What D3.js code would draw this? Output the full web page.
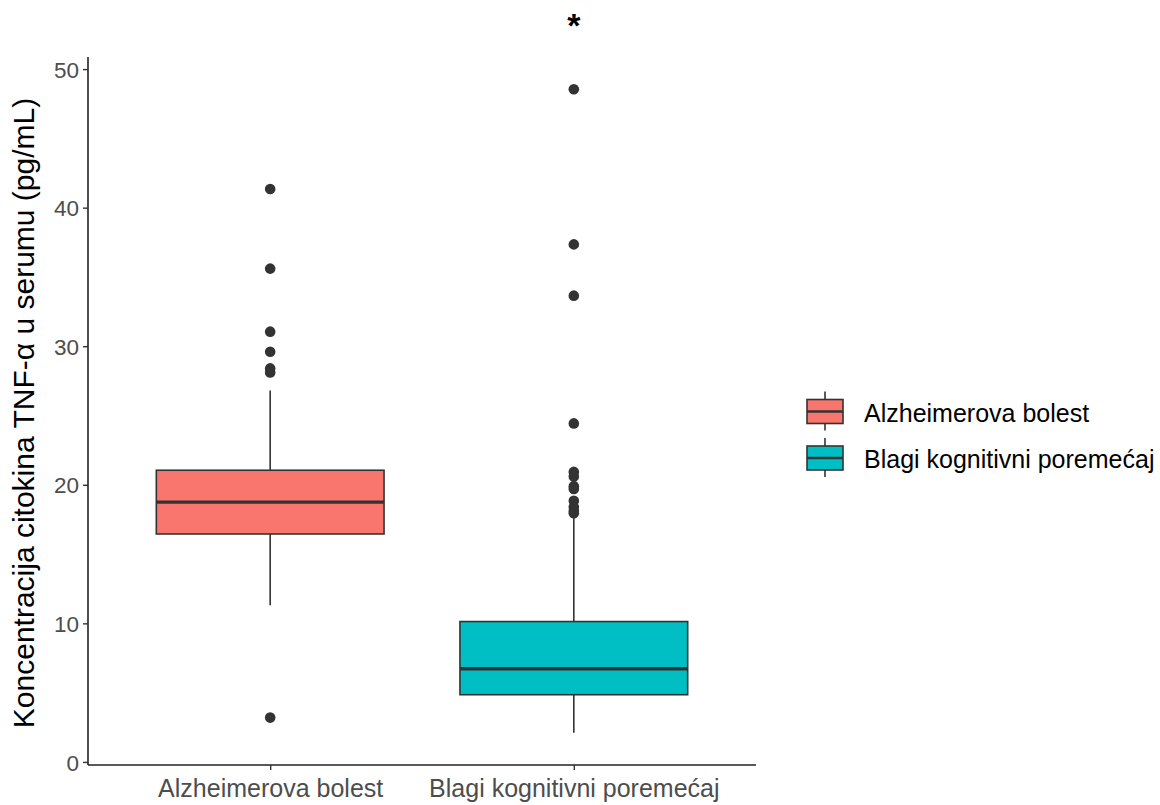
<!DOCTYPE html>
<html>
<head>
<meta charset="utf-8">
<script src="https://cdn.jsdelivr.net/npm/d3@7"></script>
<style>
  html, body { margin: 0; padding: 0; background: #ffffff; }
  svg { display: block; font-family: "Liberation Sans", Arial, sans-serif; }
</style>
</head>
<body>
<svg id="chart" width="1160" height="805"></svg>
<script>
// ---- data ----
const categories = ["Alzheimerova bolest", "Blagi kognitivni poremećaj"];
const colors = ["#F8766D", "#00BFC4"];
const q1 = [16.45, 4.85];
const median = [18.75, 6.72];
const q3 = [21.05, 10.13];
const whiskerLow = [11.3, 2.1];
const whiskerHigh = [26.8, 17.7];
const outliersAD = [41.35, 35.6, 31.05, 29.6, 28.4, 28.1, 3.2];
const outliersBKP = [48.55, 37.35, 33.65, 24.43, 20.93, 20.6, 19.9, 19.7, 18.85, 18.4, 18.1, 17.95];
const yTicks = [0, 10, 20, 30, 40, 50];
const yTitle = "Koncentracija citokina TNF-α u serumu (pg/mL)";
const significance = "*";

// ---- layout ----
const svg = d3.select("#chart");
const pLeft = 88, pRight = 756, pTop = 57, pBottom = 765;
const dataMin = 2.1, dataMax = 48.55;
const pad = (dataMax - dataMin) * 0.05;

const y = d3.scaleLinear().domain([dataMin - pad, dataMax + pad]).range([pBottom, pTop]);
// ggplot discrete: centers at 0.6/2.2 and 1.6/2.2 of width
const xc = d3.scalePoint().domain(categories).range([pLeft + (pRight-pLeft)*0.6/2.2, pLeft + (pRight-pLeft)*1.6/2.2]);
const step = (pRight-pLeft)/2.2;
const boxW = step * 0.75;

const ink = "#333333";

// boxes
const boxes = categories.map((c, i) => ({c, i, q1: q1[i], med: median[i], q3: q3[i], lo: whiskerLow[i], hi: whiskerHigh[i], col: colors[i]}));
const g = svg.append("g");
boxes.forEach(b => {
  const cx = xc(b.c);
  g.append("line").attr("x1", cx).attr("x2", cx).attr("y1", y(b.q3)).attr("y2", y(b.hi))
    .attr("stroke", ink).attr("stroke-width", 1.6);
  g.append("line").attr("x1", cx).attr("x2", cx).attr("y1", y(b.q1)).attr("y2", y(b.lo))
    .attr("stroke", ink).attr("stroke-width", 1.6);
  g.append("rect").attr("x", cx - boxW/2).attr("width", boxW)
    .attr("y", y(b.q3)).attr("height", y(b.q1) - y(b.q3))
    .attr("fill", b.col).attr("stroke", ink).attr("stroke-width", 1.6);
  g.append("line").attr("x1", cx - boxW/2).attr("x2", cx + boxW/2).attr("y1", y(b.med)).attr("y2", y(b.med))
    .attr("stroke", ink).attr("stroke-width", 3.4);
});
const outs = [outliersAD, outliersBKP];
outs.forEach((arr, i) => {
  g.selectAll(null).data(arr).enter().append("circle")
    .attr("cx", xc(categories[i])).attr("cy", d => y(d)).attr("r", 5.3).attr("fill", ink);
});

// axes
const yAxis = d3.axisLeft(y).tickValues(yTicks).tickSize(5).tickPadding(4);
const ya = svg.append("g").attr("transform", `translate(${pLeft},0)`).call(yAxis);
ya.select(".domain").attr("stroke", "#222").attr("stroke-width", 1.6).attr("d", `M0,${pBottom}V${pTop}`);
ya.selectAll(".tick line").attr("stroke", "#333").attr("stroke-width", 1.4);
ya.selectAll(".tick text").attr("fill", "#4d4d4d").attr("font-size", 22.5).attr("dy", "0.36em")
  .attr("font-family", "Liberation Sans, Arial, sans-serif");

const xAxis = d3.axisBottom(xc).tickSize(5).tickPadding(9);
const xa = svg.append("g").attr("transform", `translate(0,${pBottom})`).call(xAxis);
xa.select(".domain").attr("stroke", "#222").attr("stroke-width", 1.6).attr("d", `M${pLeft},0H${pRight}`);
xa.selectAll(".tick line").attr("stroke", "#333").attr("stroke-width", 1.4);
xa.selectAll(".tick text").attr("fill", "#4d4d4d").attr("font-size", 25).attr("dy", "0.71em")
  .attr("font-family", "Liberation Sans, Arial, sans-serif");

// y title
svg.append("text").attr("transform", `translate(34,${(pTop+pBottom)/2 + 2}) rotate(-90)`)
  .attr("text-anchor", "middle").attr("font-size", 30).attr("fill", "#000").text(yTitle);

// significance star
svg.append("text").attr("x", xc(categories[1])).attr("y", 37).attr("text-anchor", "middle")
  .attr("font-size", 34).attr("font-weight", "bold").attr("fill", "#000").text(significance);

// legend
const legY = [411.5, 458];
const lg = svg.append("g");
categories.forEach((c, i) => {
  const cy = legY[i];
  const kx = 825;
  lg.append("line").attr("x1", kx).attr("x2", kx).attr("y1", cy - 20).attr("y2", cy + 19).attr("stroke", ink).attr("stroke-width", 1.6);
  lg.append("rect").attr("x", kx - 18).attr("y", cy - 12).attr("width", 36).attr("height", 24)
    .attr("fill", colors[i]).attr("stroke", ink).attr("stroke-width", 1.6);
  lg.append("line").attr("x1", kx - 18).attr("x2", kx + 18).attr("y1", cy).attr("y2", cy).attr("stroke", ink).attr("stroke-width", 2.6);
  lg.append("text").attr("x", 864).attr("y", cy + 1).attr("dy", "0.36em").attr("font-size", 25).attr("fill", "#000").text(c);
});
</script>
</body>
</html>
